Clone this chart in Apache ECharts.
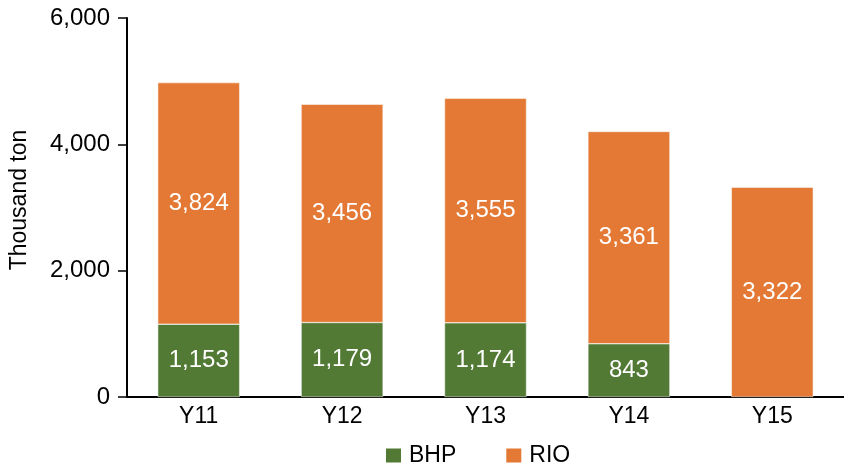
<!DOCTYPE html>
<html>
<head>
<meta charset="utf-8">
<script src="https://cdn.jsdelivr.net/npm/echarts@6/dist/echarts.min.js"></script>
<style>
  html, body { margin: 0; padding: 0; background: #fff; }
  #chart { width: 844px; height: 476px; }
</style>
</head>
<body>
<div id="chart"></div>
<script>
const years = ['Y11', 'Y12', 'Y13', 'Y14', 'Y15'];
const bhp = [1153, 1179, 1174, 843, null];
const rio = [3824, 3456, 3555, 3361, 3322];
const yTicks = [0, 2000, 4000, 6000];

const chart = echarts.init(document.getElementById('chart'));
const font = 'Liberation Sans';

const labelStyle = {
    show: true, position: 'inside', color: '#fff', fontSize: 24, fontFamily: font,
    formatter: p => p.value == null ? '' : p.value.toLocaleString('en-US')
};

chart.setOption({
    backgroundColor: '#fff',
    animation: false,
    textStyle: { fontFamily: font },
    grid: { left: 125, right: -14, top: 18, bottom: 79 },
    legend: {
        left: 384, top: 444, padding: 0, itemWidth: 17, itemHeight: 16, itemGap: 48,
        icon: 'rect',
        textStyle: { fontSize: 23, fontFamily: font, color: '#000', padding: [0, 0, 0, 2] },
        data: ['BHP', 'RIO']
    },
    xAxis: {
        type: 'category', data: years,
        axisLine: { lineStyle: { color: '#000', width: 2 } },
        axisTick: { show: false },
        axisLabel: { fontSize: 23, color: '#000', fontFamily: font, margin: 8 }
    },
    yAxis: {
        type: 'value', min: yTicks[0], max: yTicks[yTicks.length - 1], interval: 2000,
        name: 'Thousand ton', nameLocation: 'middle', nameGap: 96, nameRotate: 90,
        nameTextStyle: { fontSize: 23, color: '#000', fontFamily: font, padding: [0, 0, 0, 15] },
        axisLine: { show: true, lineStyle: { color: '#000', width: 2 } },
        axisTick: { show: true, length: 9, lineStyle: { color: '#000', width: 1.5 } },
        splitLine: { show: false },
        axisLabel: { fontSize: 24, color: '#000', fontFamily: font, margin: 17,
            formatter: v => v.toLocaleString('en-US') }
    },
    series: [
        {
            name: 'BHP', type: 'bar', stack: 'total', data: bhp, barWidth: 82,
            itemStyle: { color: '#527a35', borderColor: '#fff', borderWidth: 0.5 },
            label: labelStyle
        },
        {
            name: 'RIO', type: 'bar', stack: 'total', data: rio, barWidth: 82,
            itemStyle: { color: '#e37934', borderColor: '#fff', borderWidth: 0.5 },
            label: labelStyle
        }
    ]
});
</script>
</body>
</html>
